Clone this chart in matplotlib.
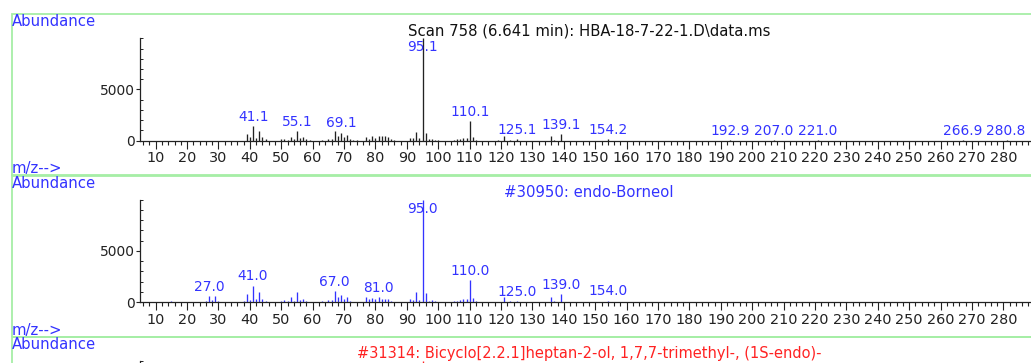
import matplotlib
matplotlib.use("Agg")
import matplotlib.pyplot as plt
from matplotlib.patches import Rectangle

# ---------------- data ----------------
scan_mz = [39, 40, 41, 42, 43, 44, 45,
           50, 51, 52, 53, 54, 55, 56, 57, 58, 59,
           63, 65, 66, 67, 68, 69, 70, 71, 72, 73, 74,
           77, 78, 79, 80, 81, 82, 83, 84, 85, 86,
           91, 92, 93, 94, 95, 96, 97, 98, 99, 100,
           105, 106, 107, 108, 109, 110, 111, 112,
           119, 121, 123, 125, 136, 137, 139, 154,
           193, 207, 221, 267, 281]
scan_ab = [680, 330, 1440, 260, 970, 380, 140,
           120, 200, 80, 400, 200, 960, 260, 330, 130, 100,
           60, 160, 130, 950, 500, 780, 400, 550, 160, 60, 50,
           370, 160, 460, 220, 450, 450, 430, 330, 150, 60,
           300, 240, 840, 260, 9990, 790, 130, 130, 60, 50,
           100, 200, 210, 260, 290, 1950, 340, 100,
           50, 480, 60, 150, 450, 80, 650, 120,
           40, 40, 40, 30, 30]
scan_labels = ["41.1", "55.1", "69.1", "95.1", "110.1", "125.1", "139.1",
               "154.2", "192.9", "207.0", "221.0", "266.9", "280.8"]

lib_mz = [15, 26, 27, 28, 29, 30, 31,
          38, 39, 40, 41, 42, 43, 44, 45,
          50, 51, 52, 53, 54, 55, 56, 57, 58,
          63, 65, 66, 67, 68, 69, 70, 71, 72,
          77, 78, 79, 80, 81, 82, 83, 84, 85,
          91, 92, 93, 94, 95, 96, 97, 98, 99,
          105, 106, 107, 108, 109, 110, 111, 112,
          121, 123, 125, 136, 137, 139, 154]
lib_ab = [50, 100, 560, 230, 560, 60, 40,
          100, 830, 200, 1600, 260, 970, 260, 100,
          100, 200, 80, 480, 130, 950, 200, 300, 100,
          60, 160, 200, 1100, 450, 700, 320, 480, 130,
          450, 250, 430, 250, 470, 320, 320, 260, 100,
          320, 200, 980, 200, 10000, 880, 100, 160, 60,
          70, 130, 200, 260, 260, 2100, 390, 80,
          450, 60, 100, 450, 80, 750, 130]
lib_labels = ["27.0", "41.0", "67.0", "81.0", "95.0", "110.0", "125.0",
              "139.0", "154.0"]

ref_mz = [95]
ref_ab = [10000]
ref_labels = []

titles = ["Scan 758 (6.641 min): HBA-18-7-22-1.D\\data.ms",
          "#30950: endo-Borneol",
          "#31314: Bicyclo[2.2.1]heptan-2-ol, 1,7,7-trimethyl-, (1S-endo)-"]
x_ticks = list(range(10, 290, 10))
y_ticks = [0, 5000]

# ---------------- style ----------------
BLUE = "#3333ff"
RED = "#ff2222"
BLACK = "#111111"
GREEN = "#a6eea6"
W, H = 1031, 363
PITCH = 161.3


def fx(px):
    return px / W


def fy(py):
    return 1 - py / H


fig = plt.figure(figsize=(W / 100, H / 100), dpi=100)
fig.patch.set_facecolor("white")

panels = [
    (scan_mz, scan_ab, scan_labels, "#222222", BLACK),
    (lib_mz, lib_ab, lib_labels, BLUE, BLUE),
    (ref_mz, ref_ab, ref_labels, RED, RED),
]

for i, (mz, ab, labels, bar_c, title_c) in enumerate(panels):
    off = PITCH * i
    clipped = (i == 2)  # third panel is cut by the lower edge of the picture
    # green frame
    top_g, bot_g = 14 + off, 175.6 + off
    fig.add_artist(Rectangle((fx(11.7), fy(bot_g)), fx(1060) - fx(11.7),
                             (bot_g - top_g) / H, transform=fig.transFigure,
                             fill=False, ec=GREEN, lw=1.3, zorder=0))
    # axes
    ax_top = 38.3 + off
    ax_h = 102.4
    ax = fig.add_axes([fx(140), fy(ax_top + ax_h), fx(1031) - fx(140), ax_h / H])
    ax.patch.set_visible(False)
    ax.set_xlim(5, 288.8)
    ax.set_ylim(0, 10000)
    ax.vlines(mz, 0, ab, colors=bar_c, lw=0.95)
    for s in ("top", "right"):
        ax.spines[s].set_visible(False)
    for s in ("left", "bottom"):
        ax.spines[s].set_linewidth(0.9)
        ax.spines[s].set_color("#222222")
    ax.set_xticks(x_ticks)
    ax.set_xticks(list(range(6, 289, 2)), minor=True)
    ax.set_yticks(y_ticks)
    ax.set_yticks(list(range(1000, 10001, 1000)), minor=True)
    ax.tick_params(axis="x", which="major", length=5.8, width=0.8, pad=1.8,
                   labelsize=10.4, colors="#222222")
    ax.tick_params(axis="x", which="minor", length=3.0, width=0.8,
                   colors="#222222")
    ax.tick_params(axis="y", which="major", length=2.8, width=0.8, pad=1.2,
                   labelsize=10, colors="#222222")
    ax.tick_params(axis="y", which="minor", length=2.0, width=0.7,
                   direction="in", colors="#222222")
    ax.set_yticklabels([str(v) for v in y_ticks])
    if clipped:
        ax.tick_params(labelbottom=False, labelleft=False)
    for lab in labels:
        v = float(lab)
        h = ab[mz.index(round(v))]
        if h > 8500:
            ax.annotate(lab, xy=(v, 10000), xytext=(0, -1.5),
                        textcoords="offset points", ha="center", va="top",
                        fontsize=9.9, color=BLUE)
        else:
            ax.annotate(lab, xy=(v, h), xytext=(0, 1.6),
                        textcoords="offset points", ha="center", va="bottom",
                        fontsize=9.9, color=BLUE)

    # texts
    fig.text(fx(12), fy(22 + off), "Abundance", ha="left", va="center",
             fontsize=10.7, color=BLUE)
    if not clipped:
        fig.text(fx(12), fy(169 + off), "m/z-->", ha="left", va="center",
                 fontsize=10.7, color=BLUE)
    fig.text(fx(589), fy(31 + off), titles[i], ha="center", va="center",
             fontsize=10.5 if clipped else 10.7, color=title_c)

fig.savefig("out.png", dpi=100, facecolor="white")
